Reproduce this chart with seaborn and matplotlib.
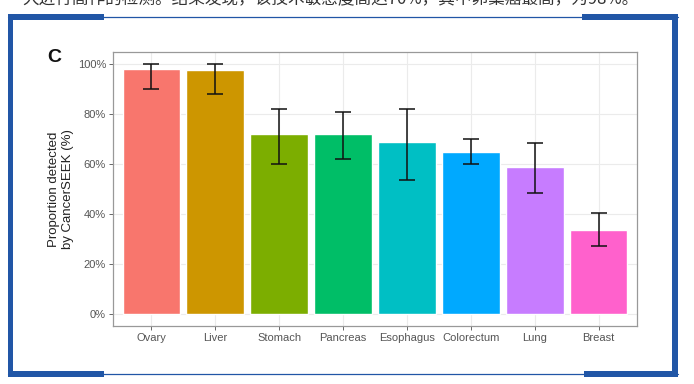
import matplotlib.pyplot as plt
import matplotlib.patches as mpatches
import matplotlib.lines as mlines
import seaborn as sns
import pandas as pd

# data
cancers = ['Ovary', 'Liver', 'Stomach', 'Pancreas', 'Esophagus', 'Colorectum', 'Lung', 'Breast']
detected = [0.98, 0.976, 0.72, 0.72, 0.69, 0.65, 0.59, 0.335]
ci_low = [0.90, 0.88, 0.60, 0.62, 0.535, 0.60, 0.485, 0.27]
ci_high = [1.00, 1.00, 0.823, 0.81, 0.82, 0.70, 0.685, 0.405]
colors = ['#F8766D', '#CD9600', '#7CAE00', '#00BE67', '#00BFC4', '#00A9FF', '#C77CFF', '#FF61CC']
yticks = [0, 0.2, 0.4, 0.6, 0.8, 1.0]
ytick_labels = ['0%', '20%', '40%', '60%', '80%', '100%']
caption = '大进行高作的检测。结果发现，该技术敏感度高达70%，其中卵巢癌最高，为98%。'

df = pd.DataFrame({'cancer': cancers, 'detected': detected})

sns.set_style('white')
plt.rcParams['font.family'] = ['Liberation Sans', 'DejaVu Sans']

W, H = 694, 384
fig = plt.figure(figsize=(W / 100, H / 100), dpi=100)
fig.patch.set_facecolor('white')

# panel position in pixels: left 113, right 637, top 52, bottom 326
ax = fig.add_axes([113 / W, 1 - 326 / H, (637 - 113) / W, (326 - 52) / H])

sns.barplot(data=df, x='cancer', y='detected', hue='cancer', palette=colors,
            width=0.9, saturation=1, legend=False, ax=ax, zorder=2)
err_lo = [d - l for d, l in zip(detected, ci_low)]
err_hi = [h - d for d, h in zip(detected, ci_high)]
ax.errorbar(range(len(cancers)), detected, yerr=[err_lo, err_hi], fmt='none',
            ecolor='#111111', elinewidth=1.1, capsize=5.5, capthick=1.1, zorder=3)

ax.set_xlim(-0.6, len(cancers) - 0.4)
ax.set_ylim(-0.05, 1.05)
ax.set_yticks(yticks)
ax.set_yticklabels(ytick_labels)
ax.grid(True, color='#ebebeb', linewidth=0.8, zorder=0)
ax.set_axisbelow(True)
for s in ax.spines.values():
    s.set_color('#999999')
    s.set_linewidth(0.9)
ax.tick_params(axis='both', length=3, width=0.7, color='#666666',
               labelcolor='#555555', labelsize=8, pad=2, left=True, bottom=True)
ax.set_xlabel('')
ax.set_ylabel('Proportion detected\nby CancerSEEK (%)', fontsize=9.5, color='#222222', labelpad=3)

fig.text(47 / W, 1 - 58 / H, 'C', fontsize=14, fontweight='bold', va='center', ha='left',
         color='#111111', family='Liberation Sans')

# caption text cut off at the top of the screenshot
fig.text(22 / W, 1 - 4 / H, caption, fontsize=12, color='#333333', va='baseline', ha='left',
         family=['Noto Sans CJK SC', 'DejaVu Sans'])

# blue frame
blue = '#2156a6'
def px_rect(x0, y0, x1, y1):
    fig.add_artist(mpatches.Rectangle((x0 / W, 1 - y1 / H), (x1 - x0) / W, (y1 - y0) / H,
                                      transform=fig.transFigure, facecolor=blue, edgecolor='none'))
def px_line(x0, y0, x1, y1):
    fig.add_artist(mlines.Line2D([x0 / W, x1 / W], [1 - y0 / H, 1 - y1 / H],
                                 transform=fig.transFigure, color=blue, linewidth=0.9))

px_line(8, 17, 678, 17)
px_line(8, 373.5, 678, 373.5)
px_rect(8, 14, 104, 20)
px_rect(582, 14, 678, 20)
px_rect(8, 14, 13, 377)
px_rect(672, 14, 678, 377)
px_rect(8, 371, 104, 377)
px_rect(584, 371, 678, 377)

fig.savefig('out.png', dpi=100)
